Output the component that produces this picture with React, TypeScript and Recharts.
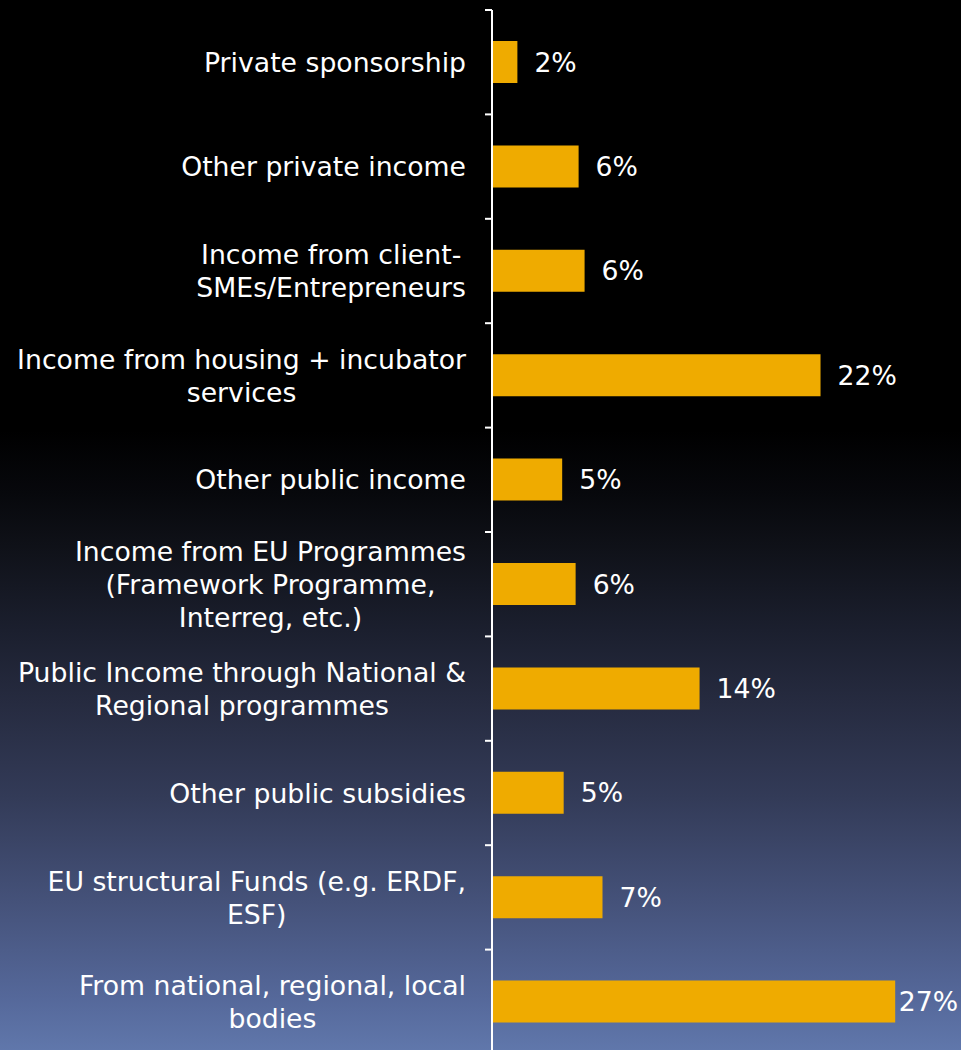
import { Bar, BarChart, LabelList, XAxis, YAxis } from "recharts";

const categories = [
  "Private sponsorship",
  "Other private income",
  "Income from client-\nSMEs/Entrepreneurs",
  "Income from housing + incubator\nservices",
  "Other public income",
  "Income from EU Programmes\n(Framework Programme,\nInterreg, etc.)",
  "Public Income through National &\nRegional programmes",
  "Other public subsidies",
  "EU structural Funds (e.g. ERDF,\nESF)",
  "From national, regional, local\nbodies",
];
const shares = [1.7, 5.8, 6.2, 22.0, 4.7, 5.6, 13.9, 4.8, 7.4, 27.0];
const shareLabels = ["2%", "6%", "6%", "22%", "5%", "6%", "14%", "5%", "7%", "27%"];

const data = categories.map((name, i) => ({
  name,
  share: shares[i],
  label: shareLabels[i],
}));

const FONT = "DejaVu Sans, Verdana, sans-serif";
const FONT_SIZE = 26.7;
const LINE_HEIGHT = 33;
const CHART_WIDTH = 961;
const TICK_MARGIN = 26;
const TICK_LEN = 7;

let ctx: CanvasRenderingContext2D | null = null;
function textWidth(s: string) {
  if (!ctx) ctx = document.createElement("canvas").getContext("2d");
  if (!ctx) return s.length * FONT_SIZE * 0.6;
  ctx.font = `${FONT_SIZE}px ${FONT}`;
  return ctx.measureText(s).width;
}

// category label plus the tick marks on the band edges (Excel style)
function CategoryTick(props: any) {
  const { x, y, payload, index } = props;
  const lines = String(payload.value).split("\n");
  const widest = Math.max(...lines.map(textWidth));
  const cx = x - widest / 2;
  const top = y - ((lines.length - 1) * LINE_HEIGHT) / 2;
  const half = payload.offset ?? 0;
  const axisX = x + TICK_MARGIN;
  const last = index === categories.length - 1;
  return (
    <g>
      <line x1={axisX - TICK_LEN} x2={axisX} y1={y - half} y2={y - half} stroke="#ffffff" strokeWidth={2} />
      {last && (
        <line x1={axisX - TICK_LEN} x2={axisX} y1={y + half} y2={y + half} stroke="#ffffff" strokeWidth={2} />
      )}
      <text x={cx} textAnchor="middle" fill="#ffffff" fontSize={FONT_SIZE} fontFamily={FONT}>
        {lines.map((line, i) => (
          <tspan key={i} x={cx} y={top + i * LINE_HEIGHT} dy="0.36em">
            {line}
          </tspan>
        ))}
      </text>
    </g>
  );
}

function ValueLabel(props: any) {
  const { x, y, width, height, value } = props;
  const text = String(value);
  const w = textWidth(text);
  // keep the label inside the picture, as the original does for the longest bar
  const lx = Math.min(x + width + 17, CHART_WIDTH - 3 - w);
  return (
    <text
      x={lx}
      y={y + height / 2}
      dy="0.36em"
      fill="#ffffff"
      fontSize={FONT_SIZE}
      fontFamily={FONT}
    >
      {text}
    </text>
  );
}

export default function App() {
  return (
    <div
      style={{
        position: "absolute",
        left: 0,
        top: 0,
        width: CHART_WIDTH,
        height: 1050,
        overflow: "hidden",
        background:
          "linear-gradient(to bottom, #000000 0%, #000000 41%, #07080c 47%, #0f1118 52%, #1b1f2e 60%, #262b40 67%, #333b58 76%, #45527a 86%, #55689a 95%, #6077ab 100%)",
      }}
    >
      <BarChart
        width={CHART_WIDTH}
        height={1060}
        data={data}
        layout="vertical"
        margin={{ top: 10, right: 21, bottom: 6, left: 0 }}
        barSize={42}
      >
        <XAxis type="number" domain={[0, 30]} hide />
        <YAxis
          type="category"
          dataKey="name"
          width={492}
          axisLine={{ stroke: "#ffffff", strokeWidth: 2 }}
          tickLine={false}
          tickSize={0}
          tickMargin={TICK_MARGIN}
          interval={0}
          tick={<CategoryTick />}
        />
        <Bar dataKey="share" fill="#efab00" isAnimationActive={false}>
          <LabelList dataKey="label" content={<ValueLabel />} />
        </Bar>
      </BarChart>
    </div>
  );
}
